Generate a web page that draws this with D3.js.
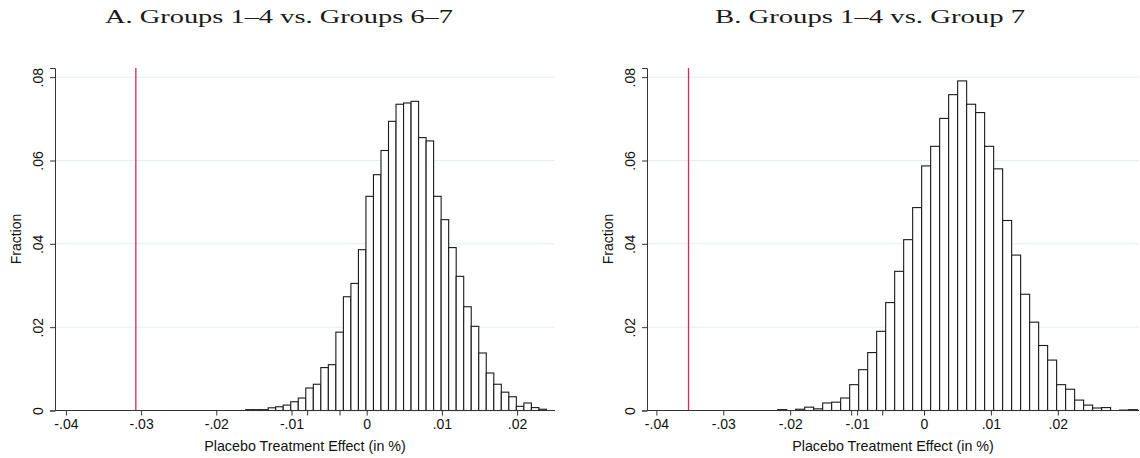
<!DOCTYPE html>
<html>
<head>
<meta charset="utf-8">
<script src="https://cdn.jsdelivr.net/npm/d3@7"></script>
<style>
  html, body { margin: 0; padding: 0; background: #ffffff; }
  svg { display: block; }
</style>
</head>
<body>
<svg id="chart" width="1140" height="458"></svg>
<script>
// ---------------- data ----------------
const titleA = "A. Groups 1\u20134 vs. Groups 6\u20137";
const titleB = "B. Groups 1\u20134 vs. Group 7";
const xAxisTitle = "Placebo Treatment Effect (in %)";
const yAxisTitle = "Fraction";

const xTicks = [-0.04, -0.03, -0.02, -0.01, 0, 0.01, 0.02];
const xTickLabels = ["-.04", "-.03", "-.02", "-.01", "0", ".01", ".02"];
const yTicks = [0, 0.02, 0.04, 0.06, 0.08];
const yTickLabels = ["0", ".02", ".04", ".06", ".08"];

// Panel A histogram (40 bins)
const binStartA = -0.0161;
const binWidthA = 0.001;
const fractionA = [
  0.0002, 0.0002, 0.0002, 0.00065, 0.0009, 0.0013, 0.0021, 0.0030, 0.0054, 0.0063,
  0.0103, 0.0110, 0.0188, 0.0273, 0.0305, 0.0386, 0.0514, 0.0566, 0.0624, 0.0694,
  0.0735, 0.0738, 0.0742, 0.0655, 0.0647, 0.0514, 0.0458, 0.0391, 0.0322, 0.0249,
  0.0202, 0.0138, 0.0090, 0.0063, 0.0044, 0.0033, 0.0010, 0.0018, 0.0007, 0.0003
];
const actualEffectA = -0.0307;
const extraTicksA = [-0.00785, -0.00355];

// Panel B histogram (40 bins)
const binStartB = -0.02187;
const binWidthB = 0.001345;
const fractionB = [
  0.0002, 0.0, 0.0003, 0.0008, 0.0004, 0.0018, 0.0020, 0.0030, 0.0062, 0.0098,
  0.0139, 0.0190, 0.0259, 0.0334, 0.0410, 0.0487, 0.0587, 0.0634, 0.0701, 0.0758,
  0.0791, 0.0735, 0.0715, 0.0634, 0.0580, 0.0456, 0.0373, 0.0279, 0.0212, 0.0156,
  0.0121, 0.0062, 0.0051, 0.0025, 0.0013, 0.0006, 0.0007, 0.0, 0.0001, 0.0002
];
const actualEffectB = -0.0352;
const extraTicksB = [-0.01081, -0.00617];

// ---------------- drawing ----------------
const svg = d3.select("#chart");
const sansFont = "'Liberation Sans', Arial, sans-serif";
const serifFont = "'Liberation Serif', 'DejaVu Serif', serif";

function drawPanel(cfg) {
  const x = d3.scaleLinear().domain(cfg.xDomain).range([cfg.left, cfg.right]);
  const y = d3.scaleLinear().domain([0, 0.0822]).range([410.5, 68]);
  const g = svg.append("g");

  // gridlines
  g.append("g").selectAll("line")
    .data(yTicks.filter(d => d > 0))
    .join("line")
    .attr("x1", cfg.left).attr("x2", cfg.right)
    .attr("y1", d => y(d)).attr("y2", d => y(d))
    .attr("stroke", "#e3eef0").attr("stroke-width", 1);

  // bars
  const bins = cfg.values.map((v, i) => ({
    x0: cfg.binStart + i * cfg.binWidth,
    x1: cfg.binStart + (i + 1) * cfg.binWidth,
    v: v
  }));
  g.append("g").selectAll("rect")
    .data(bins.filter(b => b.v > 0))
    .join("rect")
    .attr("x", b => x(b.x0))
    .attr("width", b => x(b.x1) - x(b.x0))
    .attr("y", b => y(b.v))
    .attr("height", b => y(0) - y(b.v))
    .attr("fill", "#ffffff")
    .attr("stroke", "#1a1a1a")
    .attr("stroke-width", 1.1);

  // red reference line
  g.append("line")
    .attr("x1", x(cfg.redLine)).attr("x2", x(cfg.redLine))
    .attr("y1", y(0)).attr("y2", y.range()[1])
    .attr("stroke", "#e0245a").attr("stroke-width", 1.3);

  // x axis
  const xAxis = d3.axisBottom(x)
    .tickValues(xTicks)
    .tickFormat((d, i) => xTickLabels[i])
    .tickSizeOuter(0).tickSize(5).tickPadding(4);
  const gx = g.append("g").attr("transform", `translate(0,${y(0)})`).call(xAxis);
  gx.select(".domain").attr("stroke", "#333").attr("d", `M${cfg.left},0H${cfg.right}`);
  gx.selectAll(".tick line").attr("stroke", "#333");
  gx.selectAll(".tick text").attr("font-family", sansFont).attr("font-size", 14).attr("fill", "#111");

  // extra small ticks
  g.append("g").selectAll("line")
    .data(cfg.extraTicks)
    .join("line")
    .attr("x1", d => x(d)).attr("x2", d => x(d))
    .attr("y1", y(0)).attr("y2", y(0) + 5)
    .attr("stroke", "#333");

  // y axis
  const yAxis = d3.axisLeft(y)
    .tickValues(yTicks)
    .tickFormat((d, i) => yTickLabels[i])
    .tickSizeOuter(0).tickSize(5).tickPadding(4);
  const gy = g.append("g").attr("transform", `translate(${cfg.left},0)`).call(yAxis);
  gy.select(".domain").attr("stroke", "#333");
  gy.selectAll(".tick line").attr("stroke", "#333");
  gy.selectAll(".tick text")
    .attr("font-family", sansFont).attr("font-size", 14).attr("fill", "#111")
    .attr("x", null).attr("dy", null)
    .attr("text-anchor", "middle")
    .attr("transform", `translate(${-12},0) rotate(-90)`);

  // axis titles
  g.append("text")
    .attr("x", (cfg.left + cfg.right) / 2)
    .attr("y", 451)
    .attr("text-anchor", "middle")
    .attr("font-family", sansFont).attr("font-size", 14.3).attr("fill", "#111")
    .text(xAxisTitle);
  g.append("text")
    .attr("transform", `translate(${cfg.left - 34},${239}) rotate(-90)`)
    .attr("text-anchor", "middle")
    .attr("font-family", sansFont).attr("font-size", 14).attr("fill", "#111")
    .text(yAxisTitle);

  // panel title
  g.append("text")
    .attr("x", cfg.titleX).attr("y", 23)
    .attr("font-family", serifFont).attr("font-size", 19).attr("fill", "#1a1a1a")
    .attr("textLength", cfg.titleLen).attr("lengthAdjust", "spacingAndGlyphs")
    .text(cfg.title);
}

drawPanel({
  left: 55, right: 555,
  xDomain: [(55 - 366.7) / 7520, (555 - 366.7) / 7520],
  values: fractionA, binStart: binStartA, binWidth: binWidthA,
  redLine: actualEffectA, extraTicks: extraTicksA,
  title: titleA, titleX: 105, titleLen: 348
});
drawPanel({
  left: 647, right: 1139,
  xDomain: [(647 - 924) / 6690, (1139 - 924) / 6690],
  values: fractionB, binStart: binStartB, binWidth: binWidthB,
  redLine: actualEffectB, extraTicks: extraTicksB,
  title: titleB, titleX: 715, titleLen: 310
});
</script>
</body>
</html>
